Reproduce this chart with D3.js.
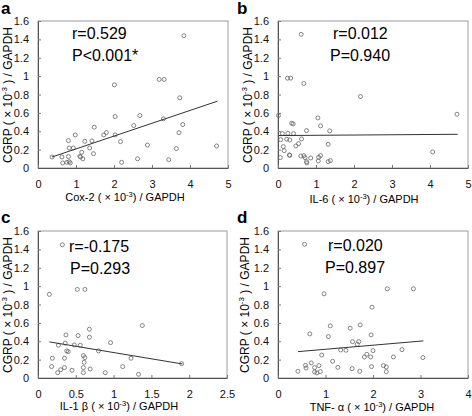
<!DOCTYPE html>
<html><head><meta charset="utf-8">
<script src="https://cdn.jsdelivr.net/npm/d3@7"></script>
<style>body{margin:0;background:#fff}svg{display:block}text{font-family:Arial,"Liberation Sans",sans-serif}</style>
</head><body>
<svg id="chart" width="472" height="416"></svg>
<script>
// ---------- data ----------
const panelLetters = ["a", "b", "c", "d"];
const statR = ["r=0.529", "r=0.012", "r=-0.175", "r=0.020"];
const statP = ["P<0.001*", "P=0.940", "P=0.293", "P=0.897"];
const yTicks = [0, 0.2, 0.4, 0.6, 0.8, 1, 1.2, 1.4, 1.6];
const xTicksA = [0, 1, 2, 3, 4, 5];
const xTicksB = [0, 1, 2, 3, 4, 5];
const xTicksC = [0, 0.5, 1, 1.5, 2, 2.5];
const xTicksD = [0, 1, 2, 3, 4];

const cox2X = [3.84,2.01,3.19,3.32,3.73,2.03,2.68,3.30,3.81,2.52,1.48,3.71,1.80,1.73,0.98,2.03,0.80,1.23,1.42,2.17,0.82,0.93,1.36,2.88,3.64,4.70,1.15,1.46,0.37,0.63,0.80,1.10,1.12,1.18,2.62,3.44,0.65,0.76,0.82,0.85,2.20];
const cox2Y = [1.44,0.905,0.964,0.964,0.764,0.56,0.571,0.535,0.473,0.462,0.444,0.385,0.385,0.36,0.36,0.36,0.298,0.291,0.295,0.287,0.218,0.218,0.218,0.25,0.211,0.24,0.171,0.156,0.12,0.12,0.124,0.127,0.12,0.10,0.10,0.09,0.055,0.062,0.069,0.055,0.062];
const cox2Fit = [[0.37, 0.12], [4.72, 0.727]];

const il6X = [0.61,0.25,0.335,0.68,2.17,0.01,4.71,1.05,0.36,0.40,1.12,0.75,1.36,0.115,0.26,0.41,0.07,0.23,0.31,0.62,0.54,1.32,0.47,0.14,0.16,0.30,0.31,0.06,0.60,0.68,0.71,0.86,1.07,1.12,1.06,0.75,0.76,1.32,1.38,4.07];
const il6Y = [1.455,0.978,0.978,0.92,0.778,0.571,0.585,0.545,0.487,0.48,0.458,0.407,0.404,0.375,0.378,0.375,0.309,0.313,0.305,0.316,0.265,0.258,0.24,0.233,0.189,0.142,0.138,0.113,0.131,0.135,0.113,0.109,0.116,0.135,0.076,0.069,0.055,0.069,0.08,0.175];
const il6Fit = [[0.01, 0.353], [4.73, 0.367]];

const il1bX = [0.323,0.15,0.52,0.62,1.38,0.68,0.37,0.53,0.68,0.96,0.36,0.27,0.48,0.56,0.38,0.40,0.80,0.60,0.62,0.19,0.35,1.23,0.61,1.90,0.18,1.12,0.35,0.30,0.60,0.69,0.45,0.26,0.60,0.89,1.33];
const il1bY = [1.45,0.91,0.964,0.964,0.571,0.531,0.469,0.462,0.444,0.385,0.38,0.356,0.36,0.356,0.295,0.287,0.295,0.244,0.222,0.215,0.215,0.215,0.171,0.156,0.124,0.124,0.113,0.09,0.113,0.098,0.084,0.058,0.058,0.058,0.04];
const il1bFit = [[0.15, 0.393], [1.91, 0.153]];

const tnfX = [0.56,0.97,2.30,2.85,1.98,1.10,1.52,1.73,0.67,1.06,1.96,1.57,1.70,1.67,1.32,1.43,2.0,2.61,0.92,1.87,1.82,1.95,2.43,3.05,1.15,0.58,0.59,0.70,0.77,0.86,1.26,1.56,1.97,2.22,2.28,0.42,0.77,0.82,0.89,1.72,2.28];
const tnfY = [1.455,0.916,0.971,0.971,0.771,0.567,0.542,0.578,0.48,0.451,0.469,0.396,0.396,0.367,0.305,0.302,0.298,0.309,0.25,0.258,0.229,0.229,0.229,0.222,0.182,0.138,0.109,0.164,0.113,0.135,0.116,0.102,0.124,0.135,0.12,0.073,0.065,0.055,0.069,0.073,0.069];
const tnfFit = [[0.42, 0.287], [3.06, 0.404]];

// ---------- layout ----------
const panels = [
  {xs: cox2X, ys: cox2Y, fit: cox2Fit, xMax: 5, ticks: xTicksA, title: "Cox-2 ( × 10",
   box: [38, 228, 21, 168], letter: [1, 14], stat: [72, 39, 72, 61], xt: [125, 201], yt: [12, 95]},
  {xs: il6X, ys: il6Y, fit: il6Fit, xMax: 5, ticks: xTicksB, title: "IL-6 ( × 10",
   box: [278, 468, 21, 168], letter: [237, 14], stat: [333, 39, 330, 61], xt: [364, 203], yt: [252, 95]},
  {xs: il1bX, ys: il1bY, fit: il1bFit, xMax: 2.5, ticks: xTicksC, title: "IL-1 β  ( × 10",
   box: [38, 227, 231, 378], letter: [1, 223], stat: [69, 252, 70, 274], xt: [119, 410], yt: [12, 305]},
  {xs: tnfX, ys: tnfY, fit: tnfFit, xMax: 4, ticks: xTicksD, title: "TNF- α  ( × 10",
   box: [278, 468, 231, 378], letter: [237, 223], stat: [328, 251, 325, 273], xt: [372, 411], yt: [249, 305]}
];

const svg = d3.select("#chart");
const fmt = v => String(v);

panels.forEach((p, i) => {
  const [L, R, T, B] = p.box;
  const x = d3.scaleLinear().domain([0, p.xMax]).range([L, R]);
  const y = d3.scaleLinear().domain([0, 1.6]).range([B, T]);
  const g = svg.append("g");

  // frame
  g.append("rect").attr("x", L).attr("y", T).attr("width", R - L).attr("height", B - T)
    .attr("fill", "none").attr("stroke", "#9a9a9a").attr("stroke-width", 1);

  // axes
  const ya = d3.axisLeft(y).tickValues(yTicks).tickFormat(fmt).tickSizeInner(-3).tickSizeOuter(0).tickPadding(9);
  const gy = g.append("g").attr("transform", `translate(${L},0)`).call(ya);
  const xa = d3.axisBottom(x).tickValues(p.ticks).tickFormat(fmt).tickSizeInner(-3).tickSizeOuter(0).tickPadding(12);
  const gx = g.append("g").attr("transform", `translate(0,${B})`).call(xa);
  [gx, gy].forEach(a => {
    a.select(".domain").attr("stroke", "#555");
    a.selectAll(".tick line").attr("stroke", "#777");
    a.selectAll(".tick text").attr("fill", "#111").style("font-size", "11px").style("font-family", "Arial, 'Liberation Sans', sans-serif");
  });

  // points
  g.selectAll("circle.pt").data(p.xs.map((v, k) => [v, p.ys[k]])).enter()
    .append("circle").attr("class", "pt")
    .attr("cx", d => x(d[0])).attr("cy", d => y(d[1])).attr("r", 2)
    .attr("fill", "none").attr("stroke", "#666").attr("stroke-width", 0.8);

  // fit line
  g.append("path").datum(p.fit)
    .attr("d", d3.line().x(d => x(d[0])).y(d => y(d[1])))
    .attr("fill", "none").attr("stroke", "#333").attr("stroke-width", 1);

  // stats
  g.append("text").attr("x", p.stat[0]).attr("y", p.stat[1]).style("font-size", "16px").text(statR[i]);
  g.append("text").attr("x", p.stat[2]).attr("y", p.stat[3]).style("font-size", "16px").text(statP[i]);

  // panel letter
  g.append("text").attr("x", p.letter[0]).attr("y", p.letter[1]).style("font-size", "17px")
    .style("font-weight", "bold").text(panelLetters[i]);

  // x title
  const xt = g.append("text").attr("x", p.xt[0]).attr("y", p.xt[1]).attr("text-anchor", "middle")
    .style("font-size", "11px");
  xt.append("tspan").text(p.title);
  xt.append("tspan").attr("dy", -4).style("font-size", "7.5px").text("-3");
  xt.append("tspan").attr("dy", 4).text(") / GAPDH");

  // y title
  const yt = g.append("text").attr("transform", `translate(${p.yt[0]},${p.yt[1]}) rotate(-90)`)
    .attr("text-anchor", "middle").style("font-size", "12px");
  yt.append("tspan").text("CGRP ( × 10");
  yt.append("tspan").attr("dy", -5).style("font-size", "8px").text("-3");
  yt.append("tspan").attr("dy", 5).text(" ) / GAPDH");
});
</script>
</body></html>
